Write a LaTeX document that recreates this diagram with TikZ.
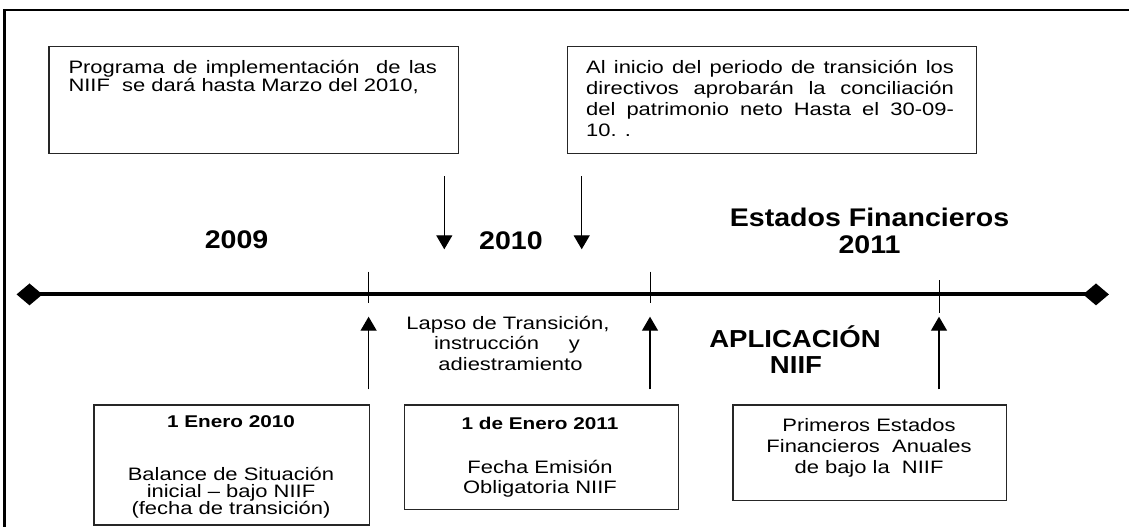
\documentclass[tikz,border=0pt]{standalone}
\usepackage{fontspec}
\setmainfont[FakeStretch=1.22]{Liberation Sans}
\newfontfamily\bigfont[FakeStretch=1.12]{Liberation Sans}
\usetikzlibrary{arrows.meta,shapes.geometric}
\tikzset{
 boxx/.style={draw=black!85, line width=1.2pt, anchor=north west, inner sep=0pt},
 txt/.style={inner sep=0pt, anchor=base, font=\fontsize{18}{21}\selectfont},
 txtl/.style={txt, anchor=base west},
 ttl/.style={inner sep=0pt, anchor=base, font=\fontsize{17}{20}\selectfont\bfseries},
 big/.style={inner sep=0pt, anchor=base, font=\bigfont\fontsize{25.5}{28}\selectfont\bfseries},
 apl/.style={inner sep=0pt, anchor=base, font=\bigfont\fontsize{24.6}{27}\selectfont\bfseries},
 arr/.style={line width=1.3pt, -{Triangle[width=16pt,length=14pt]}},
 tickline/.style={line width=1pt},
 diam/.style={diamond, fill=black, minimum width=26pt, minimum height=22pt, inner sep=0pt},
}
\begin{document}
\begin{tikzpicture}[x=1pt,y=-1pt]
\useasboundingbox (0,0) rectangle (1129,527);
\fill[white] (0,0) rectangle (1129,527);
\draw[line width=2.5pt] (4.7,527) -- (4.7,10) -- (1129,10);

% top boxes
\node[boxx, minimum width=409.4pt, minimum height=107pt] (tl) at (48.3,45.7) {};
\node[boxx, minimum width=408.9pt, minimum height=107pt] (tr) at (566.6,45.7) {};
\node[txtl] (tl1) at (68.3,73.3) {\makebox[368.4pt][s]{Programa de implementación\ \ de las}};
\node[txtl] (tl2) at (68.3,91.7) {NIIF\ \ se dará hasta Marzo del 2010,};
\node[txtl] (tr1) at (586,73.3) {\makebox[367.7pt][s]{Al inicio del periodo de transición los}};
\node[txtl] (tr2) at (586,94) {\makebox[367.7pt][s]{directivos aprobarán la conciliación}};
\node[txtl] (tr3) at (586,115) {\makebox[367.7pt][s]{del patrimonio neto Hasta el 30-09-}};
\node[txtl] (tr4) at (586,136.5) {10. .};

% down arrows
\coordinate (d1s) at (444.3,176); \coordinate (d1e) at (444.3,249.3);
\coordinate (d2s) at (581.7,176); \coordinate (d2e) at (581.7,249.3);
\draw[arr] (d1s) -- (d1e);
\draw[arr] (d2s) -- (d2e);

% year labels
\node[big] (y2009) at (236.6,248.5) {2009};
\node[big] (y2010) at (511,249.3) {2010};
\node[big] (ef1) at (869.5,226) {Estados Financieros};
\node[big] (ef2) at (869.5,253.3) {2011};

% timeline
\node[diam] (dl) at (29.5,294.4) {};
\node[diam] (dr) at (1096,294.4) {};
\draw[line width=4pt] (dl.center) -- (dr.center);

% ticks
\coordinate (t1a) at (368.6,271.7); \coordinate (t1b) at (368.6,303.3);
\coordinate (t2a) at (650,271.7);   \coordinate (t2b) at (650,303.3);
\coordinate (t3a) at (939,280);     \coordinate (t3b) at (939,312.7);
\draw[tickline] (t1a) -- (t1b);
\draw[tickline] (t2a) -- (t2b);
\draw[tickline] (t3a) -- (t3b);

% up arrows
\coordinate (u1s) at (368.6,389.3); \coordinate (u1e) at (368.6,316.7);
\coordinate (u2s) at (650,389.3);   \coordinate (u2e) at (650,316.7);
\coordinate (u3s) at (939,389.3);   \coordinate (u3e) at (939,316.7);
\draw[arr] (u1s) -- (u1e);
\draw[arr] (u2s) -- (u2e);
\draw[arr] (u3s) -- (u3e);

% middle texts
\node[txt] (l1) at (508,329.8) {Lapso de Transición,};
\node[txt] (l2) at (507,349.8) {instrucción\hspace{30pt}y};
\node[txt] (l3) at (510.5,370.4) {adiestramiento};
\node[apl] (ap1) at (795,347.3) {APLICACIÓN};
\node[apl] (ap2) at (796,373.3) {NIIF};

% bottom boxes
\node[boxx, minimum width=275.4pt, minimum height=120pt] (bl) at (93.3,404.3) {};
\node[boxx, minimum width=273.7pt, minimum height=104.7pt] (bm) at (404,404.3) {};
\node[boxx, minimum width=273.7pt, minimum height=95.7pt] (br) at (732.3,404.3) {};

\node[ttl] (bl0) at (231,427.8) {1 Enero 2010};
\node[txt] (bl1) at (231,480.5) {Balance de Situación};
\node[txt] (bl2) at (231,497.3) {inicial – bajo NIIF};
\node[txt] (bl3) at (231,514.2) {(fecha de transición)};

\node[ttl] (bm0) at (540,429.4) {1 de Enero 2011};
\node[txt] (bm1) at (540,473.7) {Fecha Emisión};
\node[txt] (bm2) at (540,493.7) {Obligatoria NIIF};

\node[txt] (br1) at (869,431.2) {Primeros Estados};
\node[txt] (br2) at (869,452.5) {Financieros\ \ Anuales};
\node[txt] (br3) at (869,473.2) {de bajo la\ \ NIIF};
\end{tikzpicture}
\end{document}
